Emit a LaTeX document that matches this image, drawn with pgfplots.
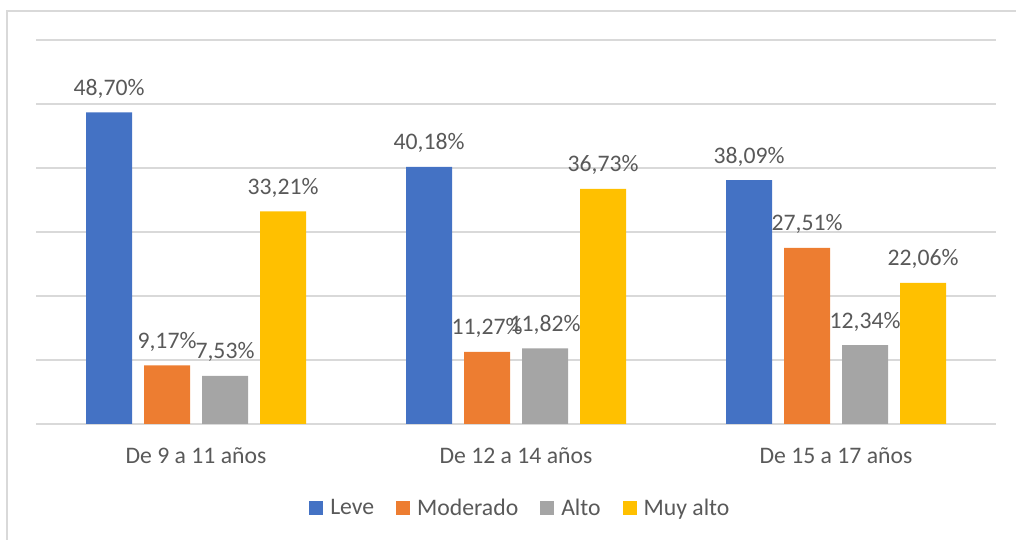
\documentclass[border=0pt]{standalone}
\usepackage{fontspec}
\setmainfont{Carlito}
\usepackage{pgfplots}
\pgfplotsset{compat=1.18}

\definecolor{cLeve}{HTML}{4472C4}
\definecolor{cMod}{HTML}{ED7D31}
\definecolor{cAlto}{HTML}{A5A5A5}
\definecolor{cMuy}{HTML}{FFC000}
\definecolor{gridGray}{HTML}{D9D9D9}
\definecolor{txt}{HTML}{595959}
\newcommand\lbl{\fontsize{23.7pt}{28pt}\selectfont}

\begin{document}
\begin{tikzpicture}
\useasboundingbox (0,0) rectangle (1016pt,540pt);
% chart frame (only left and top edges are visible in the crop)
\draw[gridGray, line width=1.5pt] (7pt,0pt) -- (7pt,529pt) -- (1016pt,529pt);
\begin{axis}[
  at={(36pt,116pt)}, anchor=south west,
  width=960pt, height=384pt, scale only axis,
  ybar=12pt, bar width=46pt,
  ymin=0, ymax=60, ytick={0,10,...,60}, yticklabels={},
  ymajorgrids, grid style={gridGray, line width=1.2pt},
  xmin=-0.5, xmax=2.5, xtick={0,1,2},
  xticklabels={De 9 a 11 años, De 12 a 14 años, De 15 a 17 años},
  axis line style={draw=none},
  major tick length=0pt,
  xticklabel style={font=\lbl, text=txt, anchor=north, inner sep=0pt, yshift=-23pt},
  /pgf/number format/assume math mode=true,
  nodes near coords={\pgfmathprintnumber[fixed,fixed zerofill,precision=2,use comma]{\pgfplotspointmeta}\%},
  every node near coord/.append style={font=\lbl, text=txt, anchor=base, yshift=17pt},
  legend columns=4,
  legend style={at={(0.504,-0.219)}, anchor=center, draw=none, font=\lbl, text=txt,
    /tikz/every odd column/.append style={column sep=6pt},
    /tikz/every even column/.append style={column sep=21pt},
    nodes={inner sep=1pt}},
  legend image code/.code={\fill[#1] (0pt,-7pt) rectangle (14pt,7pt);},
]
\addplot[fill=cLeve, draw=none] coordinates {(0,48.70) (1,40.18) (2,38.09)};
\addplot[fill=cMod, draw=none] coordinates {(0,9.17) (1,11.27) (2,27.51)};
\addplot[fill=cAlto, draw=none] coordinates {(0,7.53) (1,11.82) (2,12.34)};
\addplot[fill=cMuy, draw=none] coordinates {(0,33.21) (1,36.73) (2,22.06)};
\legend{Leve, Moderado, Alto, Muy alto}
\end{axis}
\end{tikzpicture}
\end{document}
